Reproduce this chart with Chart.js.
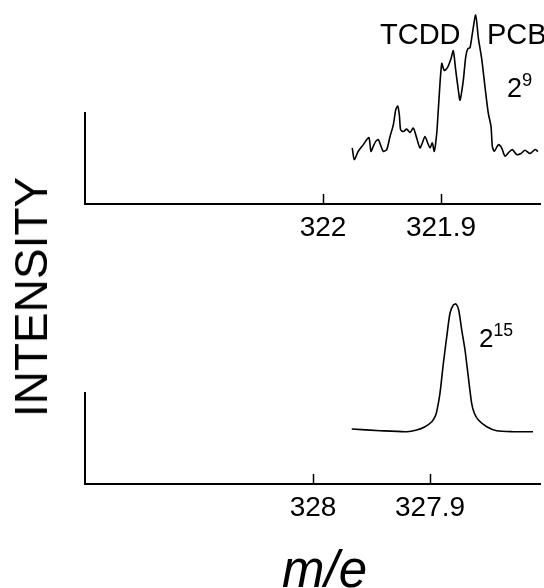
<!DOCTYPE html>
<html>
<head>
<meta charset="utf-8">
<script src="https://cdn.jsdelivr.net/npm/chart.js@4.4.0/dist/chart.umd.min.js"></script>
<style>
  html, body { margin: 0; padding: 0; background: #fff; }
  #wrap { position: relative; width: 544px; height: 588px; overflow: hidden; font-family: "Liberation Sans", Arial, sans-serif; color: #000; }
  .panel { position: absolute; left: 0; width: 544px; height: 260px; }
  .lbl { position: absolute; white-space: nowrap; line-height: 1; }
  .lbl sup { font-size: 0.68em; vertical-align: 0; position: relative; top: -0.6em; }
</style>
</head>
<body>
<div id="wrap">
  <div class="panel" style="top:0"><canvas id="top" width="544" height="260"></canvas></div>
  <div class="panel" style="top:280px"><canvas id="bottom" width="544" height="260"></canvas></div>

  <div class="lbl" style="left:380px; top:20px; font-size:29px;">TCDD</div>
  <div class="lbl" style="left:487px; top:20px; font-size:29px;">PCB</div>
  <div class="lbl" style="left:507px; top:75px; font-size:27px;">2<sup>9</sup></div>
  <div class="lbl" style="left:479px; top:325px; font-size:26px;">2<sup>15</sup></div>
  <div class="lbl" style="left:31px; top:297px; font-size:46px; transform: translate(-50%, -50%) rotate(-90deg); transform-origin: center;">INTENSITY</div>
  <div class="lbl" style="left:282px; top:544px; font-size:51px; font-style:italic;">m/e</div>
</div>
<script>
// upper spectrum, m/e 322 region (arbitrary intensity units)
const topMass = [321.9752, 321.9735, 321.9701, 321.9658, 321.9630, 321.9610, 321.9593, 321.9574,
  321.9553, 321.9531, 321.9508, 321.9489, 321.9460, 321.9432, 321.9404, 321.9384, 321.9367,
  321.9353, 321.9342, 321.9319, 321.9291, 321.9263, 321.9235, 321.9206, 321.9178, 321.9158,
  321.9136, 321.9113, 321.9093, 321.9074, 321.9057, 321.9036, 321.9023, 321.8994, 321.8972,
  321.8943, 321.8915, 321.8896, 321.8875, 321.8853, 321.8839, 321.8811, 321.8791, 321.8774,
  321.8754, 321.8735, 321.8706, 321.8684, 321.8655, 321.8627, 321.8599, 321.8576, 321.8565,
  321.8548, 321.8514, 321.8486, 321.8458, 321.8430, 321.8396, 321.8359, 321.8322, 321.8288,
  321.8246, 321.8203, 321.8178];
const topIntensity = [56.7, 45, 53.3, 60, 65, 67, 53.3, 58.3,
  63.3, 65, 58.3, 53.3, 55, 68.3, 80, 95, 99,
  90, 75, 73.3, 75.7, 72.3, 76.7, 66.7, 56.7, 61.7,
  68.3, 61.7, 56.7, 61.7, 53.3, 71.7, 95, 142, 135,
  138.3, 147, 155, 135, 115, 105, 125, 148.3, 156.7,
  158.3, 171.7, 191, 168.3, 146.7, 118.3, 91.7, 78.3, 58.3,
  53.3, 60, 56.7, 48.3, 51.7, 55, 50, 51, 54.3,
  51, 55, 53];
const topTicks = [322, 321.9];
const topTickLabels = ["322", "321.9"];

// lower spectrum, m/e 328 region
const bottomMass = [327.9669, 327.9427, 327.9199, 327.9114, 327.9043, 327.8985, 327.8957, 327.8943,
  327.8915, 327.8886, 327.8857, 327.8829, 327.8801, 327.8778, 327.8755, 327.8729, 327.8701,
  327.8673, 327.8644, 327.8621, 327.8587, 327.8515, 327.8430, 327.8291, 327.8120];
const bottomIntensity = [55, 53.3, 52.3, 54, 57.3, 62.3, 67.3, 72.3,
  90.7, 120.7, 147.3, 171, 179, 180, 174, 154, 134,
  107.3, 80.7, 70.7, 64, 57.3, 53.3, 52.3, 52.3];
const bottomTicks = [328, 327.9];
const bottomTickLabels = ["328", "327.9"];

const inwardTicks = {
    id: "inwardTicks",
    afterDraw(chart) {
        const xs = chart.scales.x;
        const ctx = chart.ctx;
        const yb = chart.chartArea.bottom;
        ctx.save();
        ctx.strokeStyle = "#000";
        ctx.lineWidth = 1.5;
        xs.ticks.forEach(t => {
            const x = Math.round(xs.getPixelForValue(t.value)) + 0.5;
            ctx.beginPath();
            ctx.moveTo(x, yb);
            ctx.lineTo(x, yb - 10);
            ctx.stroke();
        });
        ctx.restore();
    }
};

function makeSpectrum(canvasId, mass, intensity, ticks, tickLabels, xMin, xMax, yMax) {
    const points = mass.map((m, i) => ({ x: m, y: intensity[i] }));
    return new Chart(document.getElementById(canvasId).getContext("2d"), {
        type: "line",
        data: {
            datasets: [{
                data: points,
                borderColor: "#000",
                borderWidth: 1.6,
                pointRadius: 0,
                tension: 0.25,
                fill: false,
                clip: false
            }]
        },
        options: {
            responsive: false,
            animation: false,
            layout: { padding: { left: 85, right: 4, top: 113, bottom: 16 } },
            plugins: { legend: { display: false }, tooltip: { enabled: false } },
            scales: {
                x: {
                    type: "linear",
                    reverse: true,
                    min: xMin,
                    max: xMax,
                    afterBuildTicks: s => { s.ticks = ticks.map(v => ({ value: v })); },
                    afterFit: s => { s.height = 40; },
                    grid: { display: false, drawTicks: false },
                    border: { display: true, color: "#000", width: 2 },
                    ticks: {
                        padding: 7,
                        color: "#000",
                        font: { family: "'Liberation Sans', Arial, sans-serif", size: 28 },
                        callback: (v, i) => tickLabels[i]
                    }
                },
                y: {
                    min: 0,
                    max: yMax,
                    afterFit: s => { s.width = 0; },
                    grid: { display: false, drawTicks: false },
                    border: { display: true, color: "#000", width: 2 },
                    ticks: { display: false }
                }
            }
        },
        plugins: [inwardTicks]
    });
}

makeSpectrum("top", topMass, topIntensity, topTicks, topTickLabels, 321.8161, 322.2017, 92);
makeSpectrum("bottom", bottomMass, bottomIntensity, bottomTicks, bottomTickLabels, 327.8060, 328.1949, 91);
</script>
</body>
</html>
